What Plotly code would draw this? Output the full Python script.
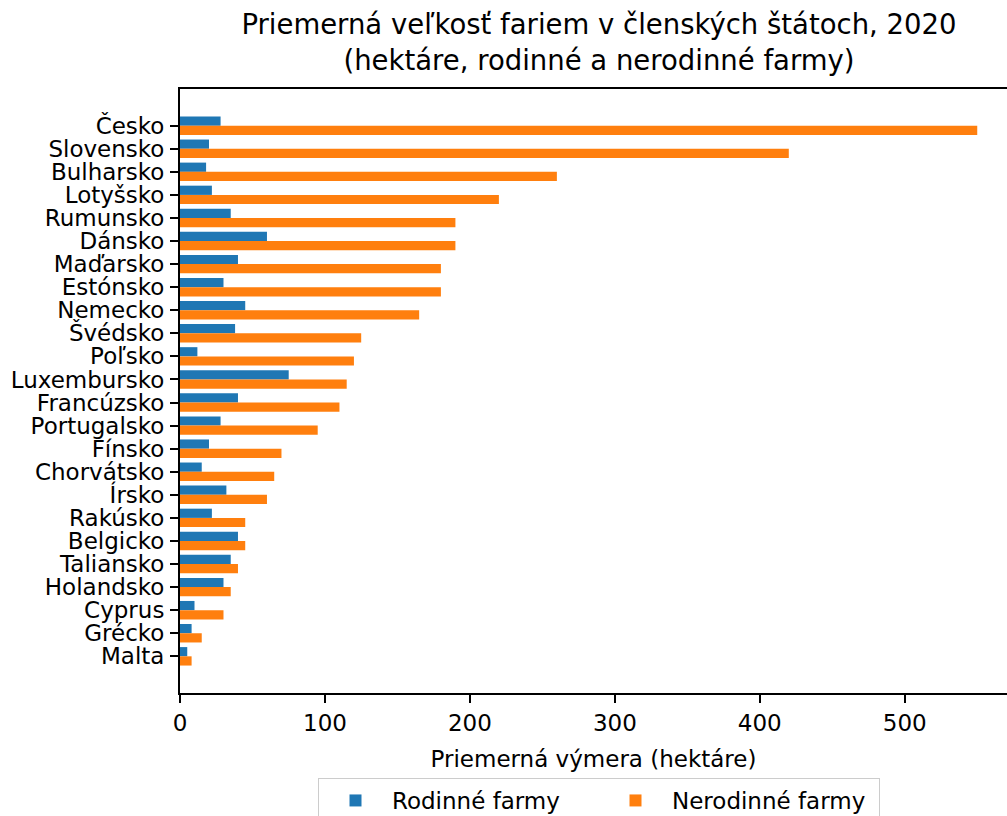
import plotly.graph_objects as go

countries = ["Česko", "Slovensko", "Bulharsko", "Lotyšsko", "Rumunsko", "Dánsko",
             "Maďarsko", "Estónsko", "Nemecko", "Švédsko", "Poľsko", "Luxembursko",
             "Francúzsko", "Portugalsko", "Fínsko", "Chorvátsko", "Írsko", "Rakúsko",
             "Belgicko", "Taliansko", "Holandsko", "Cyprus", "Grécko", "Malta"]
rodinne = [28, 20, 18, 22, 35, 60, 40, 30, 45, 38, 12, 75,
           40, 28, 20, 15, 32, 22, 40, 35, 30, 10, 8, 5]
nerodinne = [550, 420, 260, 220, 190, 190, 180, 180, 165, 125, 120, 115,
             110, 95, 70, 65, 60, 45, 45, 40, 35, 30, 15, 8]
x_ticks = [0, 100, 200, 300, 400, 500]

FONT = "DejaVu Sans"
W, H = 1007, 816
L, T, B = 180.3, 89, 123.3
FS = 23

fig = go.Figure()
fig.add_trace(go.Bar(y=countries, x=rodinne, orientation="h", name="Rodinné farmy",
                     marker=dict(color="#1f77b4", line=dict(width=0)),
                     width=0.4, offset=-0.4))
fig.add_trace(go.Bar(y=countries, x=nerodinne, orientation="h", name="Nerodinné farmy",
                     marker=dict(color="#ff7f0e", line=dict(width=0)),
                     width=0.4, offset=0))

n = len(countries)
fig.update_layout(
    width=W, height=H,
    margin=dict(l=L, r=0, t=T, b=B, pad=0, autoexpand=False),
    plot_bgcolor="white", paper_bgcolor="white",
    font=dict(family=FONT, size=FS, color="black"),
    title=dict(text="Priemerná veľkosť fariem v členských štátoch, 2020<br>(hektáre, rodinné a nerodinné farmy)",
               x=599 / W, xanchor="center", xref="container",
               y=1 - 34 / H, yanchor="top", yref="container",
               font=dict(family=FONT, size=27.5, color="black")),
    showlegend=True,
    legend=dict(orientation="h", xref="container", yref="container",
                x=599 / W, xanchor="center", y=1 - 778 / H, yanchor="top",
                bordercolor="#cccccc", borderwidth=1, itemwidth=63,
                font=dict(family=FONT, size=FS, color="black"),
                entrywidth=202, entrywidthmode="pixels", traceorder="normal"),
    xaxis=dict(range=[0, (W - L) / 1.449], tickvals=x_ticks, ticktext=[str(v) for v in x_ticks],
               showgrid=False, zeroline=False, showline=True, linecolor="black", linewidth=2,
               mirror=True, ticks="outside", ticklen=8, tickwidth=2, tickcolor="black",
               title=dict(text="Priemerná výmera (hektáre)", standoff=16,
                          font=dict(family=FONT, size=FS))),
    yaxis=dict(type="category", categoryorder="array", categoryarray=countries,
               tickmode="array", tickvals=countries, ticktext=countries,
               range=[n - 1 + 1.59, -1.59],
               showgrid=False, zeroline=False, showline=True, linecolor="black", linewidth=2,
               ticks="outside", ticklen=8, tickwidth=2, tickcolor="black", ticklabelstandoff=1),
)

fig.write_html("out.html", config={"displayModeBar": False},
               post_script="document.body.style.margin='0px';document.body.style.overflow='hidden';")
